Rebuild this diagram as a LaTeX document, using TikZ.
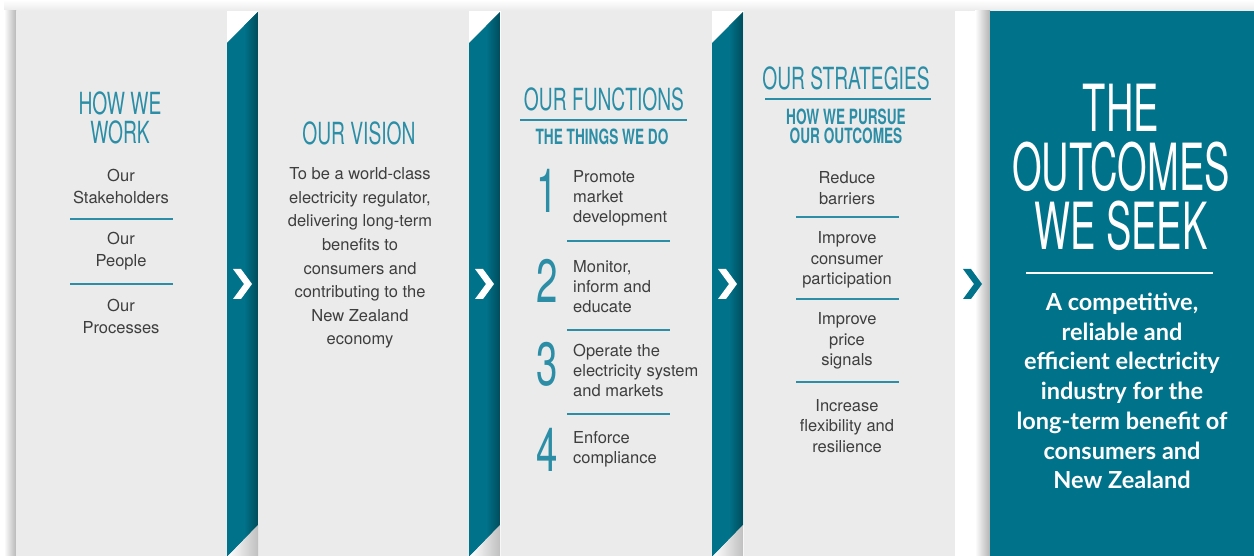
\documentclass[tikz,border=0pt]{standalone}
\usepackage{fontspec}
\setmainfont{TeX Gyre Heros}
\newfontfamily\headfont[FakeStretch=0.63]{TeX Gyre Heros}
\newfontfamily\subheadfont[FakeStretch=0.65]{TeX Gyre Heros}
\newfontfamily\bigheadfont[FakeStretch=0.585]{TeX Gyre Heros}
\newfontfamily\seekfont{Lato}
\usetikzlibrary{positioning}

\definecolor{panelgrey}{HTML}{EBEBEB}
\definecolor{eateal}{HTML}{00728A}
\definecolor{eadark}{HTML}{004C5B}
\definecolor{eahead}{HTML}{2B8EA6}
\definecolor{eatext}{HTML}{3E3E3E}

\tikzset{
	head/.style={inner sep=0pt, align=center, text=eahead, font=\headfont\fontsize{30.5}{29}\selectfont},
	subhead/.style={inner sep=0pt, align=center, text=eahead, font=\subheadfont\bfseries\fontsize{21}{19}\selectfont},
	body/.style={inner sep=0pt, align=center, text=eatext, font=\fontsize{16.5}{22}\selectfont},
	item/.style={body, align=left, anchor=west, font=\fontsize{16.5}{20}\selectfont},
	digit/.style={inner sep=0pt, text=eahead, font=\headfont\fontsize{61}{61}\selectfont},
	rule/.style={eahead, line width=1.6pt},
}

\begin{document}
\begin{tikzpicture}[x=1pt,y=-1pt]
	
	\useasboundingbox (0,0) rectangle (1254,556);
	
	% soft shadows round the strip
	\shade[top color=white, bottom color=black!8] (4,0) rectangle (1254,11);
	\shade[left color=white, right color=black!28] (4,11) rectangle (16,556);
	\shade[left color=white, right color=black!30] (975,11) rectangle (990,556);
	
	% grey panels and the last teal one
	\fill[panelgrey] (16,11) rectangle (227,556);
	\fill[panelgrey] (258,11) rectangle (469,556);
	\fill[panelgrey] (501,11) rectangle (712,556);
	\fill[panelgrey] (744,11) rectangle (955,556);
	\fill[eateal] (990,11) rectangle (1254,556);
	
	% folded ribbons between the panels
	\foreach \x in {227,469,712} {
		\begin{scope}
			\clip (\x,43) -- (\x+31,12) -- (\x+31,525) -- (\x+1,556) -- (\x,556) -- cycle;
			\fill[eateal] (\x,0) rectangle (\x+31,556);
			\shade[left color=eateal, right color=eadark] (\x+17,0) rectangle (\x+31,556);
		\end{scope}
		\shade[left color=white, right color=black!25] (\x+1,556) -- (\x+31,525) -- (\x+31,556) -- cycle;
		\fill[white] (\x+6,269) -- (\x+14,269) -- (\x+25,284) -- (\x+14,299) -- (\x+6,299) -- (\x+17,284) -- cycle;
	}
	\fill[eateal] (963,269) -- (971,269) -- (982,284) -- (971,299) -- (963,299) -- (974,284) -- cycle;
	
	% how we work
	\node[head] (hw) at (120,118) {HOW WE\\WORK};
	\node[body] (stake) at (121,186) {Our\\Stakeholders};
	\node[body] (people) at (121,251) {Our\\People};
	\node[body] (proc) at (121,316) {Our\\Processes};
	\draw[rule] (70,219) -- (173,219);
	\draw[rule] (70,284) -- (173,284);
	
	% vision
	\node[head] (ov) at (359,133) {OUR VISION};
	\node[body, font=\fontsize{16.5}{23.6}\selectfont] (vis) at (360,258) {To be a world-class\\electricity regulator,\\delivering long-term\\benefits to\\consumers and\\contributing to the\\New Zealand\\economy};
	
	% functions
	\node[head] (of) at (604,99) {OUR FUNCTIONS};
	\draw[rule] (520,120) -- (687,120);
	\node[subhead] (tt) at (602,137) {THE THINGS WE DO};
	\node[digit] (d1) at (547,191) {1};
	\node[digit] (d2) at (547,281) {2};
	\node[digit] (d3) at (547,364) {3};
	\node[digit] (d4) at (547,450) {4};
	\node[item] (f1) at (573,198) {Promote\\market\\development};
	\node[item] (f2) at (573,287) {Monitor,\\inform and\\educate};
	\node[item] (f3) at (573,370) {Operate the\\electricity system\\and markets};
	\node[item] (f4) at (573,449) {Enforce\\compliance};
	\draw[rule] (567,241) -- (670,241);
	\draw[rule] (567,330) -- (670,330);
	\draw[rule] (567,414) -- (670,414);
	
	% strategies
	\node[head] (os) at (846,78) {OUR STRATEGIES};
	\draw[rule] (765,99) -- (931,99);
	\node[subhead] (hp) at (846,126) {HOW WE PURSUE\\OUR OUTCOMES};
	\node[body, font=\fontsize{16.5}{20.5}\selectfont] (s1) at (847,188) {Reduce\\barriers};
	\node[body, font=\fontsize{16.5}{20.5}\selectfont] (s2) at (847,260) {Improve\\consumer\\participation};
	\node[body, font=\fontsize{16.5}{20.5}\selectfont] (s3) at (847,341) {Improve\\price\\signals};
	\node[body, font=\fontsize{16.5}{20.5}\selectfont] (s4) at (847,426) {Increase\\flexibility and\\resilience};
	\draw[rule] (796,217) -- (899,217);
	\draw[rule] (796,299) -- (899,299);
	\draw[rule] (796,382) -- (899,382);
	
	% outcomes
	\node[head, text=white, font=\bigheadfont\fontsize{65}{59}\selectfont] (ws) at (1121,167) {THE\\OUTCOMES\\WE SEEK};
	\draw[white, line width=2.5pt] (1026,273) -- (1213,273);
	\node[inner sep=0pt, align=center, text=white, font=\seekfont\bfseries\fontsize{23.5}{29.7}\selectfont] (goal) at (1122,391) {A competitive,\\reliable and\\efficient electricity\\industry for the\\long-term benefit of\\consumers and\\New Zealand};
	
\end{tikzpicture}
\end{document}
